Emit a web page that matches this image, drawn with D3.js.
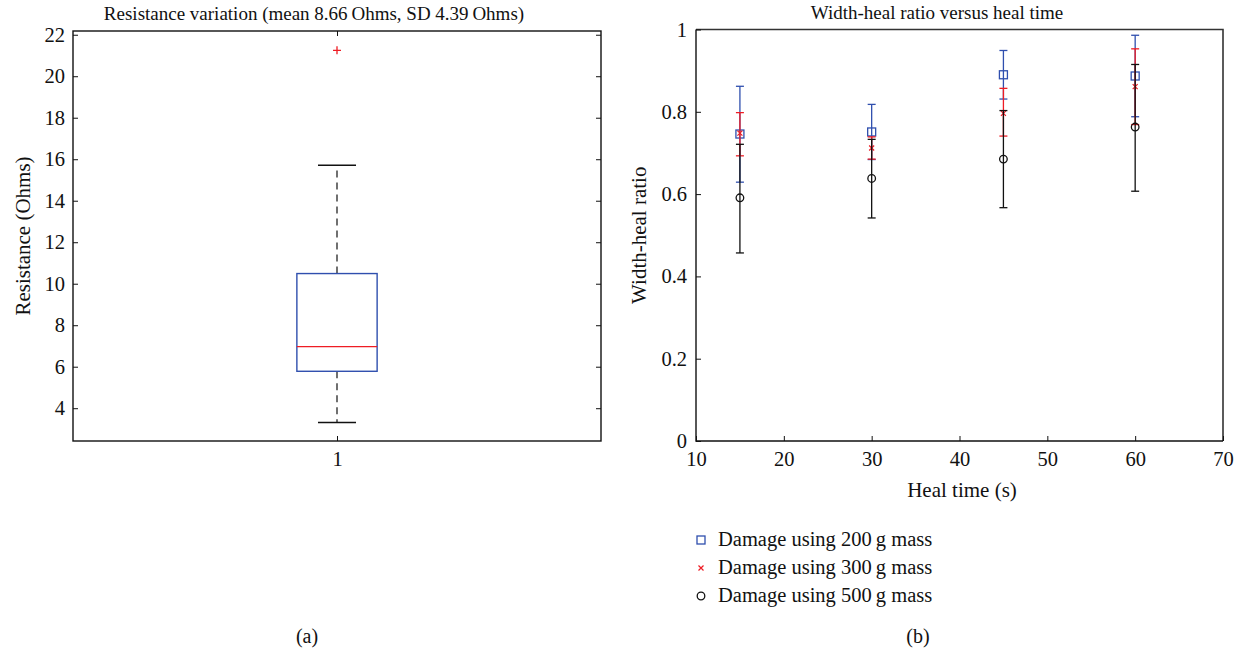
<!DOCTYPE html>
<html>
<head>
<meta charset="utf-8">
<script src="https://cdn.jsdelivr.net/npm/d3@7"></script>
<style>
  body { margin: 0; background: #fff; }
  svg text { font-family: 'Liberation Serif', 'DejaVu Serif', serif; font-size: 19px; fill: #111; }
  svg .tick text { font-size: 20.5px; }
  svg .label { font-size: 21px; }
  svg .legend text { font-size: 20.5px; }
</style>
</head>
<body>
<svg id="chart" width="1242" height="655"></svg>
<script>
// panel (a): box plot of resistance
const boxLabels = ["1"];
const boxValues = [3.31, 5.78, 6.97, 10.49, 15.71]; // low whisker, q1, median, q3, high whisker
const boxOutliers = [21.25];
const resTicks = [4, 6, 8, 10, 12, 14, 16, 18, 20, 22];

// panel (b): width-heal ratio vs heal time
const healTimes = [15, 30, 45, 60];
const mean200 = [0.746, 0.751, 0.890, 0.887];
const upper200 = [0.862, 0.818, 0.949, 0.986];
const lower200 = [0.629, 0.684, 0.831, 0.788];
const mean300 = [0.748, 0.712, 0.796, 0.861];
const upper300 = [0.798, 0.739, 0.857, 0.953];
const lower300 = [0.693, 0.685, 0.741, 0.769];
const mean500 = [0.591, 0.638, 0.685, 0.763];
const upper500 = [0.721, 0.733, 0.803, 0.915];
const lower500 = [0.457, 0.542, 0.567, 0.607];
const seriesNames = ["Damage using 200\u2009g mass", "Damage using 300\u2009g mass", "Damage using 500\u2009g mass"];
const ratioTicks = [0, 0.2, 0.4, 0.6, 0.8, 1];
const timeTicks = [10, 20, 30, 40, 50, 60, 70];

const blue = "#2f4fae", red = "#ee1c24", black = "#111";
const svg = d3.select("#chart");
const tickLen = 5;

// strip d3's default axis font so the page font applies
function cleanAxis(g) {
  g.select(".domain").remove();
  g.attr("font-family", null).attr("font-size", null);
  g.selectAll(".tick line").attr("stroke", "#111");
  g.selectAll(".tick text").attr("fill", "#111");
}

// ---------- panel (a) ----------
const a = { left: 73, right: 601, top: 31, bottom: 441 };
const xa = d3.scaleLinear().domain([0.5, 1.5]).range([a.left, a.right]);
const ya = d3.scaleLinear().domain([2.42, 22.18]).range([a.bottom, a.top]);
const ga = svg.append("g");

ga.append("rect")
  .attr("x", a.left).attr("y", a.top)
  .attr("width", a.right - a.left).attr("height", a.bottom - a.top)
  .attr("fill", "none").attr("stroke", "#111").attr("stroke-width", 1.4);

// ticks point inward on all four sides
ga.append("g").attr("transform", `translate(${a.left},0)`)
  .call(d3.axisLeft(ya).tickValues(resTicks).tickSize(-tickLen).tickPadding(8))
  .call(cleanAxis);
ga.append("g").attr("transform", `translate(${a.right},0)`)
  .call(d3.axisRight(ya).tickValues(resTicks).tickSize(-tickLen).tickFormat(""))
  .call(cleanAxis);
ga.append("g").attr("transform", `translate(0,${a.bottom})`)
  .call(d3.axisBottom(xa).tickValues([1]).tickFormat((d, i) => boxLabels[i]).tickSize(-tickLen).tickPadding(10))
  .call(cleanAxis);
ga.append("g").attr("transform", `translate(0,${a.top})`)
  .call(d3.axisTop(xa).tickValues([1]).tickFormat("").tickSize(-tickLen))
  .call(cleanAxis);

const [wLo, q1, med, q3, wHi] = boxValues;
const bx = 1, boxHalf = 0.076, capHalf = 0.036;
// whiskers
ga.append("line").attr("x1", xa(bx)).attr("x2", xa(bx)).attr("y1", ya(q3)).attr("y2", ya(wHi))
  .attr("stroke", black).attr("stroke-dasharray", "7,5").attr("stroke-width", 1.2);
ga.append("line").attr("x1", xa(bx)).attr("x2", xa(bx)).attr("y1", ya(q1)).attr("y2", ya(wLo))
  .attr("stroke", black).attr("stroke-dasharray", "7,5").attr("stroke-width", 1.2);
[wLo, wHi].forEach(v => {
  ga.append("line").attr("x1", xa(bx - capHalf)).attr("x2", xa(bx + capHalf))
    .attr("y1", ya(v)).attr("y2", ya(v)).attr("stroke", black).attr("stroke-width", 1.4);
});
ga.append("rect")
  .attr("x", xa(bx - boxHalf)).attr("y", ya(q3))
  .attr("width", xa(bx + boxHalf) - xa(bx - boxHalf)).attr("height", ya(q1) - ya(q3))
  .attr("fill", "none").attr("stroke", blue).attr("stroke-width", 1.4);
ga.append("line").attr("x1", xa(bx - boxHalf)).attr("x2", xa(bx + boxHalf))
  .attr("y1", ya(med)).attr("y2", ya(med)).attr("stroke", red).attr("stroke-width", 1.4);
boxOutliers.forEach(v => {
  ga.append("path")
    .attr("d", `M${xa(bx) - 4},${ya(v)}h8M${xa(bx)},${ya(v) - 4}v8`)
    .attr("stroke", red).attr("stroke-width", 1.3).attr("fill", "none");
});

ga.append("text").attr("x", 314).attr("y", 20).attr("text-anchor", "middle")
  .text("Resistance variation (mean 8.66\u2009Ohms, SD 4.39\u2009Ohms)");
ga.append("text").attr("class", "label")
  .attr("transform", `translate(30,${(a.top + a.bottom) / 2}) rotate(-90)`)
  .attr("text-anchor", "middle").text("Resistance (Ohms)");
ga.append("text").attr("x", 307).attr("y", 643).attr("text-anchor", "middle").style("font-size", "20px").text("(a)");

// ---------- panel (b) ----------
const b = { left: 696, right: 1223, top: 29.5, bottom: 441 };
const xb = d3.scaleLinear().domain([10, 70]).range([b.left, b.right]);
const yb = d3.scaleLinear().domain([0, 1]).range([b.bottom, b.top]);
const gb = svg.append("g");

gb.append("path")
  .attr("d", `M${b.left},${b.top}H${b.right}V${b.bottom}`)
  .attr("fill", "none").attr("stroke", "#333").attr("stroke-width", 1.6);
gb.append("path")
  .attr("d", `M${b.left},${b.top}V${b.bottom}H${b.right}`)
  .attr("fill", "none").attr("stroke", "#111").attr("stroke-width", 1.4);

gb.append("g").attr("transform", `translate(${b.left},0)`)
  .call(d3.axisLeft(yb).tickValues(ratioTicks).tickSize(-tickLen).tickPadding(9).tickFormat(d => d === 0 || d === 1 ? d : d.toFixed(1)))
  .call(cleanAxis);
gb.append("g").attr("transform", `translate(0,${b.bottom})`)
  .call(d3.axisBottom(xb).tickValues(timeTicks).tickSize(-tickLen).tickPadding(10))
  .call(cleanAxis);

const series = [
  { mean: mean200, up: upper200, lo: lower200, color: blue, marker: "square" },
  { mean: mean300, up: upper300, lo: lower300, color: red, marker: "x" },
  { mean: mean500, up: upper500, lo: lower500, color: black, marker: "circle" }
];
const capW = 4;

function drawMarker(g, kind, cx, cy, color) {
  if (kind === "square") {
    g.append("rect").attr("x", cx - 4).attr("y", cy - 4).attr("width", 8).attr("height", 8)
      .attr("fill", "none").attr("stroke", color).attr("stroke-width", 1.3);
  } else if (kind === "x") {
    g.append("path").attr("d", `M${cx - 2.5},${cy - 2.5}L${cx + 2.5},${cy + 2.5}M${cx - 2.5},${cy + 2.5}L${cx + 2.5},${cy - 2.5}`)
      .attr("stroke", color).attr("stroke-width", 1.2).attr("fill", "none");
  } else {
    g.append("circle").attr("cx", cx).attr("cy", cy).attr("r", 3.8)
      .attr("fill", "none").attr("stroke", color).attr("stroke-width", 1.3);
  }
}

series.forEach(s => {
  const g = gb.append("g");
  healTimes.forEach((t, i) => {
    const x = xb(t);
    g.append("line").attr("x1", x).attr("x2", x).attr("y1", yb(s.lo[i])).attr("y2", yb(s.up[i]))
      .attr("stroke", s.color).attr("stroke-width", 1.3);
    [s.lo[i], s.up[i]].forEach(v => {
      g.append("line").attr("x1", x - capW).attr("x2", x + capW).attr("y1", yb(v)).attr("y2", yb(v))
        .attr("stroke", s.color).attr("stroke-width", 1.3);
    });
    drawMarker(g, s.marker, x, yb(s.mean[i]), s.color);
  });
});

gb.append("text").attr("x", 937).attr("y", 19).attr("text-anchor", "middle")
  .text("Width-heal ratio versus heal time");
gb.append("text").attr("class", "label")
  .attr("transform", `translate(646,${(b.top + b.bottom) / 2}) rotate(-90)`)
  .attr("text-anchor", "middle").text("Width-heal ratio");
gb.append("text").attr("class", "label").attr("x", 962).attr("y", 497).attr("text-anchor", "middle").text("Heal time (s)");

// legend
const legend = gb.append("g").attr("class", "legend");
seriesNames.forEach((name, i) => {
  const y = 540 + i * 28;
  drawMarker(legend, series[i].marker, 701, y, series[i].color);
  legend.append("text").attr("x", 718).attr("y", y + 6).text(name);
});

gb.append("text").attr("x", 918).attr("y", 643).attr("text-anchor", "middle").style("font-size", "20px").text("(b)");
</script>
</body>
</html>
